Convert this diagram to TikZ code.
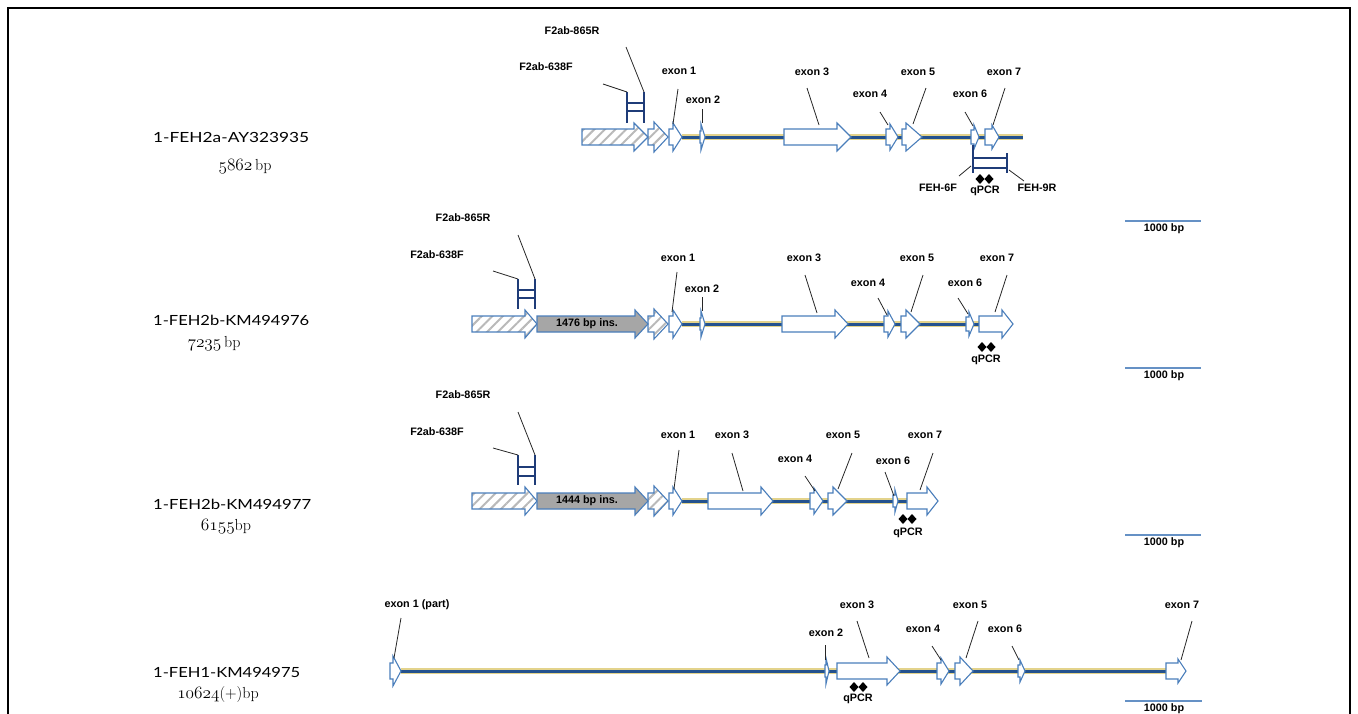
\documentclass[tikz,border=0pt]{standalone}
\usepackage{fontspec}
\usepackage{graphicx}
\newfontfamily\arialf{Liberation Sans}
\newfontfamily\gsans{Lato}
\usetikzlibrary{patterns.meta}
\definecolor{exblue}{HTML}{4A7EBB}
\definecolor{intblue}{HTML}{24528E}
\definecolor{intyel}{HTML}{E3D38C}
\definecolor{prblue}{HTML}{1F3C78}
\definecolor{insgrey}{HTML}{A6A6A6}
% arrow shape: [style]{x0}{xb}{xtip}{y}{body half}{head half}
\newcommand{\exshape}[7][exon]{%
  \draw[#1] (#2,{#5-#6}) -- (#3,{#5-#6}) -- (#3,{#5-#7}) -- (#4,#5) -- (#3,{#5+#7}) -- (#3,{#5+#6}) -- (#2,{#5+#6}) -- cycle;}
\newcommand{\intronline}[3]{%
  \draw[intyel,line width=6pt] (#1,#3) -- (#2,#3);
  \draw[intblue,line width=3pt] (#1,#3) -- (#2,#3);}
\newcommand{\ldr}[5]{%
  \coordinate (#1a) at (#2,#3); \coordinate (#1b) at (#4,#5);
  \draw[leader] (#1a) -- (#1b);}
\newcommand{\qdia}[2]{%
  \fill[black] ({#1-4.5},#2) -- (#1,{#2-5}) -- ({#1+4.5},#2) -- (#1,{#2+5}) -- cycle;}
% primer H: {x1}{x2}{ytop}{ybot}{yh1}{yh2}
\newcommand{\primerH}[6]{%
  \draw[prv] (#1,#3) -- (#1,#4);
  \draw[prv] (#2,#3) -- (#2,#4);
  \draw[prh] (#1,#5) -- (#2,#5);
  \draw[prh] (#1,#6) -- (#2,#6);}
\newcommand{\onum}[1]{$\mathnormal{#1}$}
\begin{document}
\begin{tikzpicture}[x=1pt,y=-1pt,
  lab/.style={font=\arialf\bfseries\fontsize{10.8}{12}\selectfont, inner sep=0pt},
  exon/.style={draw=exblue, fill=white, line width=1.1pt, line join=miter},
  hatch/.style={draw=exblue, line width=1.1pt, pattern={Lines[angle=45,distance=7.5pt,line width=2pt]}, pattern color=gray!55},
  insarrow/.style={draw=exblue, fill=insgrey, line width=1.1pt},
  leader/.style={draw=black!85, line width=0.8pt},
  prv/.style={draw=prblue, line width=2.2pt},
  prh/.style={draw=prblue, line width=1.4pt},
  sbar/.style={draw=exblue!85, line width=1.3pt},
  gname/.style={font=\gsans\fontsize{14}{16}\selectfont, inner sep=0pt, anchor=west},
  gbp/.style={font=\fontsize{16}{18}\selectfont, inner sep=0pt}
]
\useasboundingbox (0,0) rectangle (1358,713);
\draw[line width=1.2pt] (8,8) rectangle (1350,740);

% ================= Row 1 =================
\intronline{682}{1023}{137}
\exshape[hatch]{582}{634}{648}{137}{8}{14}
\exshape[hatch]{648}{654}{668}{137}{8}{15}
\exshape{669}{673}{682}{137}{8}{14}
\exshape{700}{701}{705}{137}{6}{13}
\exshape{784}{837}{851}{137}{8}{14}
\exshape{886}{890}{898}{137}{8}{13}
\exshape{902}{906}{922}{137}{8}{14}
\exshape{971}{974}{979}{137}{7}{12}
\exshape{985}{992}{999}{137}{8}{12}
\primerH{627}{644}{92}{123}{103}{111}
\node[lab] (r1p865) at (572,31) {F2ab-865R};
\node[lab] (r1p638) at (546,67) {F2ab-638F};
\ldr{r1l865}{626}{47}{644}{92}
\ldr{r1l638}{603}{84}{627}{92}
\node[lab] (r1x1) at (679,71) {exon 1};
\node[lab] (r1x2) at (703,100) {exon 2};
\node[lab] (r1x3) at (812,72) {exon 3};
\node[lab] (r1x4) at (870,94) {exon 4};
\node[lab] (r1x5) at (918,72) {exon 5};
\node[lab] (r1x6) at (970,94) {exon 6};
\node[lab] (r1x7) at (1004,72) {exon 7};
\ldr{r1l1}{678}{89}{673}{124}
\ldr{r1l2}{702}{109}{702}{123}
\ldr{r1l3}{807}{88}{819}{125}
\ldr{r1l4}{880}{112}{888}{125}
\ldr{r1l5}{926}{88}{913}{124}
\ldr{r1l6}{965}{112}{973}{126}
\ldr{r1l7}{1005}{88}{993}{125}
% qPCR primers row 1
\draw[prv] (973,145) -- (973,173);
\draw[prv] (1007,153) -- (1007,173);
\draw[prh] (973,158) -- (1007,158);
\draw[prh] (973,168) -- (1007,168);
\qdia{980}{179}\qdia{989}{179}
\node[lab] (r1q) at (985,191) {qPCR};
\node[lab] (r1f6) at (938,188) {FEH-6F};
\node[lab] (r1f9) at (1037,188) {FEH-9R};
\ldr{r1lf6}{959}{176}{971}{166}
\ldr{r1lf9}{1009}{170}{1024}{181}
\draw[sbar] (1125,221) -- (1201,221);
\node[lab] (sb1) at (1164,229) {1000 bp};
\node[gname] (g1) at (153,137) {\resizebox{156pt}{\height}{1-FEH2a-AY323935}};
\node[gbp] (b1) at (245,167) {\onum{5862}\,bp};

% ================= Row 2 =================
\intronline{682}{979}{324}
\exshape[hatch]{472}{525}{537}{324}{8}{14}
\exshape[insarrow]{537}{635}{648}{324}{8}{14}
\exshape[hatch]{648}{654}{668}{324}{8}{15}
\exshape{669}{673}{682}{324}{8}{14}
\exshape{700}{701}{705}{324}{6}{13}
\exshape{782}{835}{848}{324}{8}{14}
\exshape{884}{888}{895}{324}{8}{13}
\exshape{901}{906}{920}{324}{8}{14}
\exshape{966}{969}{974}{324}{7}{12}
\exshape{979}{1002}{1013}{324}{8}{14}
\node[lab] (ins2) at (587,324) {1476 bp ins.};
\primerH{518}{535}{279}{309}{290}{298}
\node[lab] (r2p865) at (463,218) {F2ab-865R};
\node[lab] (r2p638) at (437,255) {F2ab-638F};
\ldr{r2l865}{518}{235}{535}{279}
\ldr{r2l638}{493}{271}{518}{279}
\node[lab] (r2x1) at (678,258) {exon 1};
\node[lab] (r2x2) at (702,289) {exon 2};
\node[lab] (r2x3) at (804,258) {exon 3};
\node[lab] (r2x4) at (868,283) {exon 4};
\node[lab] (r2x5) at (917,258) {exon 5};
\node[lab] (r2x6) at (965,283) {exon 6};
\node[lab] (r2x7) at (997,258) {exon 7};
\ldr{r2l1}{677}{272}{672}{312}
\ldr{r2l2}{702}{297}{702}{311}
\ldr{r2l3}{805}{275}{817}{313}
\ldr{r2l4}{878}{298}{887}{315}
\ldr{r2l5}{923}{275}{911}{312}
\ldr{r2l6}{958}{298}{968}{314}
\ldr{r2l7}{1007}{275}{995}{312}
\qdia{982}{347}\qdia{991}{347}
\node[lab] (r2q) at (986,360) {qPCR};
\draw[sbar] (1125,368) -- (1201,368);
\node[lab] (sb2) at (1164,376) {1000 bp};
\node[gname] (g2) at (153,320) {\resizebox{156pt}{\height}{1-FEH2b-KM494976}};
\node[gbp] (b2) at (214,344) {\onum{7235}\,bp};

% ================= Row 3 =================
\intronline{682}{907}{501}
\exshape[hatch]{472}{525}{537}{501}{8}{14}
\exshape[insarrow]{537}{635}{648}{501}{8}{14}
\exshape[hatch]{648}{654}{668}{501}{8}{15}
\exshape{669}{673}{682}{501}{8}{14}
\exshape{708}{761}{773}{501}{8}{14}
\exshape{810}{814}{823}{501}{8}{13}
\exshape{828}{833}{847}{501}{8}{14}
\exshape{893}{895}{898}{501}{6}{11}
\exshape{907}{927}{938}{501}{8}{14}
\node[lab] (ins3) at (587,501) {1444 bp ins.};
\primerH{518}{535}{455}{485}{467}{476}
\node[lab] (r3p865) at (463,395) {F2ab-865R};
\node[lab] (r3p638) at (437,432) {F2ab-638F};
\ldr{r3l865}{518}{412}{535}{455}
\ldr{r3l638}{493}{448}{518}{455}
\node[lab] (r3x1) at (678,435) {exon 1};
\node[lab] (r3x3) at (732,435) {exon 3};
\node[lab] (r3x4) at (795,459) {exon 4};
\node[lab] (r3x5) at (843,435) {exon 5};
\node[lab] (r3x6) at (893,461) {exon 6};
\node[lab] (r3x7) at (925,435) {exon 7};
\ldr{r3l1}{679}{450}{674}{489}
\ldr{r3l3}{732}{453}{743}{491}
\ldr{r3l4}{805}{476}{815}{491}
\ldr{r3l5}{852}{453}{838}{489}
\ldr{r3l6}{885}{472}{894}{496}
\ldr{r3l7}{933}{453}{920}{490}
\qdia{903}{519}\qdia{912}{519}
\node[lab] (r3q) at (908,533) {qPCR};
\draw[sbar] (1125,535) -- (1201,535);
\node[lab] (sb3) at (1164,543) {1000 bp};
\node[gname] (g3) at (153,504) {\resizebox{158pt}{\height}{1-FEH2b-KM494977}};
\node[gbp] (b3) at (226,527) {\onum{6155}bp};

% ================= Row 4 =================
\intronline{401}{1166}{671}
\exshape{390}{393}{401}{671}{8}{15}
\exshape{825}{826}{829}{671}{6}{13}
\exshape{837}{887}{900}{671}{8}{14}
\exshape{937}{941}{949}{671}{8}{13}
\exshape{955}{960}{973}{671}{8}{14}
\exshape{1018}{1020}{1025}{671}{6}{11}
\exshape{1166}{1178}{1186}{671}{8}{12}
\node[lab] (r4x1) at (417,605) {exon 1 (part)};
\node[lab] (r4x2) at (826,633) {exon 2};
\node[lab] (r4x3) at (857,605) {exon 3};
\node[lab] (r4x4) at (923,629) {exon 4};
\node[lab] (r4x5) at (970,605) {exon 5};
\node[lab] (r4x6) at (1005,629) {exon 6};
\node[lab] (r4x7) at (1182,605) {exon 7};
\ldr{r4l1}{401}{618}{394}{658}
\ldr{r4l2}{825}{645}{825}{660}
\ldr{r4l3}{857}{621}{869}{658}
\ldr{r4l4}{932}{646}{941}{660}
\ldr{r4l5}{978}{621}{966}{658}
\ldr{r4l6}{1012}{646}{1019}{660}
\ldr{r4l7}{1192}{621}{1181}{660}
\qdia{854}{687}\qdia{863}{687}
\node[lab] (r4q) at (858,699) {qPCR};
\draw[sbar] (1125,701) -- (1202,701);
\node[lab] (sb4) at (1164,709) {1000 bp};
\node[gname] (g4) at (153,672) {\resizebox{147pt}{\height}{1-FEH1-KM494975}};
\node[gbp] (b4) at (218,694) {\onum{10624}(+)bp};
\end{tikzpicture}
\end{document}
